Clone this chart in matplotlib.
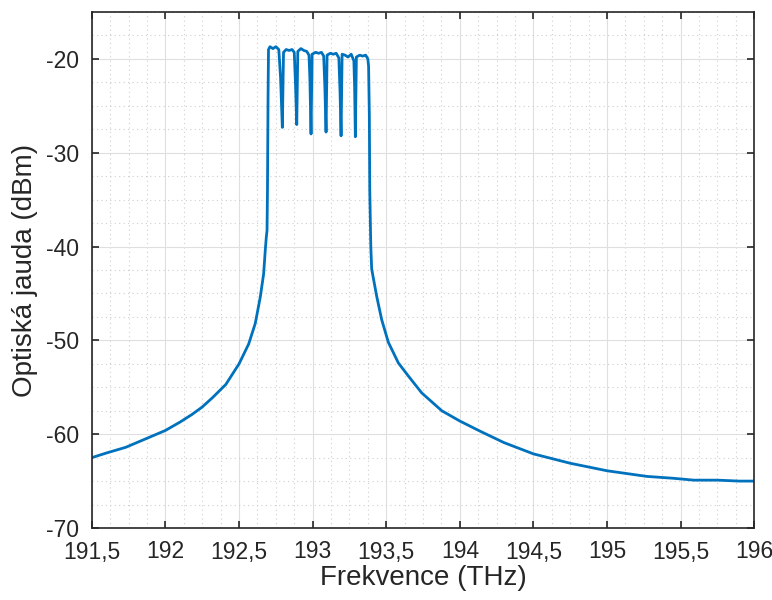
import numpy as np
import matplotlib.pyplot as plt
from matplotlib.ticker import MultipleLocator

plt.rcParams["font.family"] = ["Liberation Sans", "DejaVu Sans"]

# Spectrum (THz, dBm)
freq_left = [191.50, 191.60, 191.73, 191.85, 192.00, 192.10, 192.18, 192.25,
             192.32, 192.41, 192.50, 192.565, 192.61, 192.644, 192.667, 192.678,
             192.685, 192.69]
power_left = [-62.5, -62.0, -61.4, -60.6, -59.6, -58.7, -57.9, -57.1,
              -56.1, -54.7, -52.5, -50.4, -48.2, -45.4, -42.9, -40.4,
              -39.0, -38.3]

freq_comb = [192.693, 192.697, 192.700, 192.710, 192.730, 192.750, 192.770, 192.782,
             192.794, 192.802, 192.820, 192.840, 192.860, 192.875, 192.883,
             192.892, 192.899, 192.920, 192.940, 192.960, 192.975, 192.981,
             192.989, 192.996, 193.020, 193.040, 193.060, 193.075, 193.083,
             193.091, 193.098, 193.120, 193.140, 193.160, 193.178, 193.186,
             193.193, 193.200, 193.220, 193.240, 193.262, 193.280, 193.285,
             193.290, 193.297, 193.320, 193.340, 193.360, 193.375, 193.380]
power_comb = [-34.0, -24.0, -19.0, -18.7, -18.9, -18.7, -19.0, -22.0,
              -27.3, -19.3, -19.0, -19.1, -19.0, -19.3, -22.5,
              -27.0, -19.2, -18.9, -19.1, -19.2, -19.6, -22.0,
              -28.0, -19.5, -19.3, -19.4, -19.3, -19.7, -23.0,
              -27.8, -19.6, -19.4, -19.5, -19.4, -19.9, -23.5,
              -28.2, -19.5, -19.6, -19.8, -19.5, -20.2, -23.0,
              -28.3, -19.8, -19.6, -19.7, -19.6, -20.0, -20.8]

freq_right = [193.385, 193.388, 193.395, 193.401, 193.435, 193.469, 193.514, 193.582,
              193.650, 193.741, 193.877, 194.00, 194.14, 194.30, 194.50, 194.75,
              195.00, 195.27, 195.45, 195.59, 195.75, 195.90, 196.00]
power_right = [-26.0, -34.0, -40.0, -42.4, -45.3, -47.8, -50.2, -52.4,
               -53.8, -55.6, -57.5, -58.6, -59.7, -60.9, -62.1, -63.1,
               -63.9, -64.5, -64.7, -64.9, -64.9, -65.0, -65.0]

x_ticks = [191.5, 192, 192.5, 193, 193.5, 194, 194.5, 195, 195.5, 196]
y_ticks = [-70, -60, -50, -40, -30, -20]

freq = freq_left + freq_comb + freq_right
power = power_left + power_comb + power_right

fig, ax = plt.subplots(figsize=(7.72, 6.0), dpi=100)
fig.subplots_adjust(left=0.119, right=0.977, top=0.98, bottom=0.12)

ax.plot(freq, power, color="#0072BD", linewidth=2.0)

ax.set_xlim(191.5, 196)
ax.set_ylim(-70, -15)
ax.set_xticks(x_ticks)
ax.set_xticklabels([("%g" % v).replace(".", ",") for v in x_ticks])
ax.set_yticks(y_ticks)
ax.set_yticklabels(["%d" % v for v in y_ticks])
ax.xaxis.set_minor_locator(MultipleLocator(0.125))
ax.yaxis.set_minor_locator(MultipleLocator(2.5))

ax.grid(which="major", color="#dfdfdf", linewidth=0.8)
ax.grid(which="minor", color="#cfcfcf", linestyle=(0, (1, 3)), linewidth=0.8)
ax.set_axisbelow(True)

ax.tick_params(which="major", direction="in", top=True, right=True,
               length=5, width=1.2, labelsize=16.5, colors="#262626", pad=9)
ax.tick_params(which="minor", length=0)
for s in ax.spines.values():
    s.set_linewidth(1.2)
    s.set_color("#262626")

ax.set_xlabel("Frekvence (THz)", fontsize=20, color="#262626", labelpad=1)
ax.set_ylabel("Optiská jauda (dBm)", fontsize=20, color="#262626", labelpad=6)

fig.savefig("out.png", dpi=100)
